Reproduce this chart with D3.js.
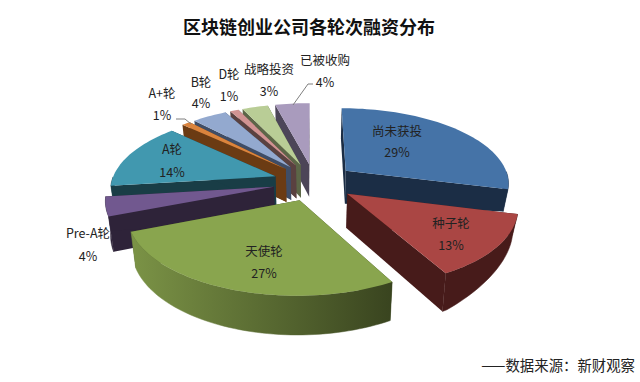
<!DOCTYPE html>
<html>
<head>
<meta charset="utf-8">
<script src="https://cdnjs.cloudflare.com/ajax/libs/d3/7.8.5/d3.min.js"></script>
<style>
  html, body { margin: 0; padding: 0; background: #fff; }
  text { font-family: "Noto Sans CJK SC", "Noto Sans", sans-serif; }
</style>
</head>
<body>
<div id="chart"></div>
<script>
const categories = ["尚未获投", "种子轮", "天使轮", "Pre-A轮", "A轮", "A+轮", "B轮", "D轮", "战略投资", "已被收购"];
const values = [29, 13, 27, 4, 14, 1, 4, 1, 3, 4];
const topColors = ["#4573a7", "#aa4644", "#89a54e", "#71588f", "#4198af", "#db843d", "#93a9cf", "#d19392", "#b9cd96", "#a99bbd"];
const sideColors = ["#1b2d45", "#471b1a", "#7b9346", "#2e2339", "#193d46", "#6b3b13", "#3f4d66", "#5a4140", "#5c6647", "#4c4558"];
const rimEndColors = ["#1b2d45", "#471b1a", "#39441f", "#2e2339", "#193d46", "#6b3b13", "#3f4d66", "#5a4140", "#5c6647", "#4c4558"];

// label centres [x, name y, percent y], same order as categories
const labelPos = [[397, 131, 152], [451, 223, 245], [264, 251, 273], [88, 233, 256], [172, 149, 172],
                  [162, 93, 115], [201, 82, 103], [229, 74, 96], [269, 69, 91], [325, 60, 82]];
const drawOrder = [9, 0, 8, 7, 6, 5, 4, 3, 1, 2];

const width = 640, height = 382;
const explode = 0.25, persp = 0.15;

const svg = d3.select("#chart").append("svg")
    .attr("width", width).attr("height", height);
const defs = svg.append("defs");

const sx = d3.scaleLinear().domain([-1, 1]).range([314 - 164, 314 + 164]);
const sy = d3.scaleLinear().domain([-1, 1]).range([182 - 75, 182 + 75]);

// ground plane (unit circle) to screen, y grows towards the viewer
function project(px, py) {
    const s = 1 / (1 - persp * py);
    return [sx(px * s), sy(py * s)];
}

// the pie floor sits lower than the top, less so on the far right
function drop(p) {
    const d = 33 + 0.05 * (p[1] - 171) - 0.2 * Math.max(0, p[0] - 450);
    return [p[0] - (p[0] - 314) * 0.025, p[1] + d];
}

const pie = d3.pie().sort(null).startAngle(0).endAngle(2 * Math.PI);
const slices = pie(values);
const line = d3.line();

function sliceGeometry(d) {
    const mid = (d.startAngle + d.endAngle) / 2;
    const ox = explode * Math.sin(mid), oy = -explode * Math.cos(mid);
    const at = a => project(ox + Math.sin(a), oy - Math.cos(a));
    const n = Math.max(2, Math.ceil((d.endAngle - d.startAngle) / 0.03));
    const angles = d3.range(n + 1).map(i => d.startAngle + (d.endAngle - d.startAngle) * i / n);
    return { tip: project(ox, oy), rim: angles.map(at), angles };
}

drawOrder.forEach(i => {
    const g = sliceGeometry(slices[i]);
    const group = svg.append("g").attr("class", "slice");
    const first = g.rim[0], last = g.rim[g.rim.length - 1];

    // radial walls
    [first, last].forEach(p => {
        group.append("path")
            .attr("d", line([g.tip, p, drop(p), drop(g.tip)]) + "Z")
            .attr("fill", rimEndColors[i]);
    });

    // outer wall, only the part facing the viewer
    const front = g.rim.filter((p, k) => Math.cos(g.angles[k]) < 0);
    if (front.length > 1) {
        const id = "rim" + i;
        const grad = defs.append("linearGradient").attr("id", id)
            .attr("gradientUnits", "userSpaceOnUse")
            .attr("x1", front[front.length - 1][0]).attr("x2", front[0][0])
            .attr("y1", 0).attr("y2", 0);
        grad.append("stop").attr("offset", 0).attr("stop-color", sideColors[i]);
        grad.append("stop").attr("offset", 1).attr("stop-color", rimEndColors[i]);
        group.append("path")
            .attr("d", line(front.concat(front.map(drop).reverse())) + "Z")
            .attr("fill", `url(#${id})`)
            .attr("stroke", `url(#${id})`)
            .attr("stroke-width", 0.5);
    }

    group.append("path")
        .attr("d", line([g.tip].concat(g.rim)) + "Z")
        .attr("fill", topColors[i]);
});

// leader lines for A+轮 and 已被收购
const leaders = [[[176, 119], [185, 119], [191, 124]], [[313, 84], [308, 84], [293, 105]]];
svg.append("g").selectAll("path").data(leaders).enter().append("path")
    .attr("d", d => line(d))
    .attr("fill", "none")
    .attr("stroke", "#7f7f7f")
    .attr("stroke-width", 1);

const labels = svg.append("g").selectAll("g").data(slices).enter().append("g")
    .attr("text-anchor", "middle")
    .attr("font-size", 12.5)
    .attr("fill", "#222");
labels.append("text")
    .attr("x", (d, i) => labelPos[i][0])
    .attr("y", (d, i) => labelPos[i][1])
    .attr("dy", "0.36em")
    .text((d, i) => categories[i]);
labels.append("text")
    .attr("x", (d, i) => labelPos[i][0])
    .attr("y", (d, i) => labelPos[i][2])
    .attr("dy", "0.36em")
    .text(d => d.value + "%");

svg.append("text")
    .attr("x", 309).attr("y", 28).attr("dy", "0.36em")
    .attr("text-anchor", "middle")
    .attr("font-size", 18).attr("font-weight", 700)
    .attr("fill", "#111")
    .text("区块链创业公司各轮次融资分布");

svg.append("text")
    .attr("x", 635).attr("y", 366).attr("dy", "0.36em")
    .attr("text-anchor", "end")
    .attr("font-size", 14.4)
    .attr("fill", "#222")
    .text("——数据来源：新财观察");
</script>
</body>
</html>
